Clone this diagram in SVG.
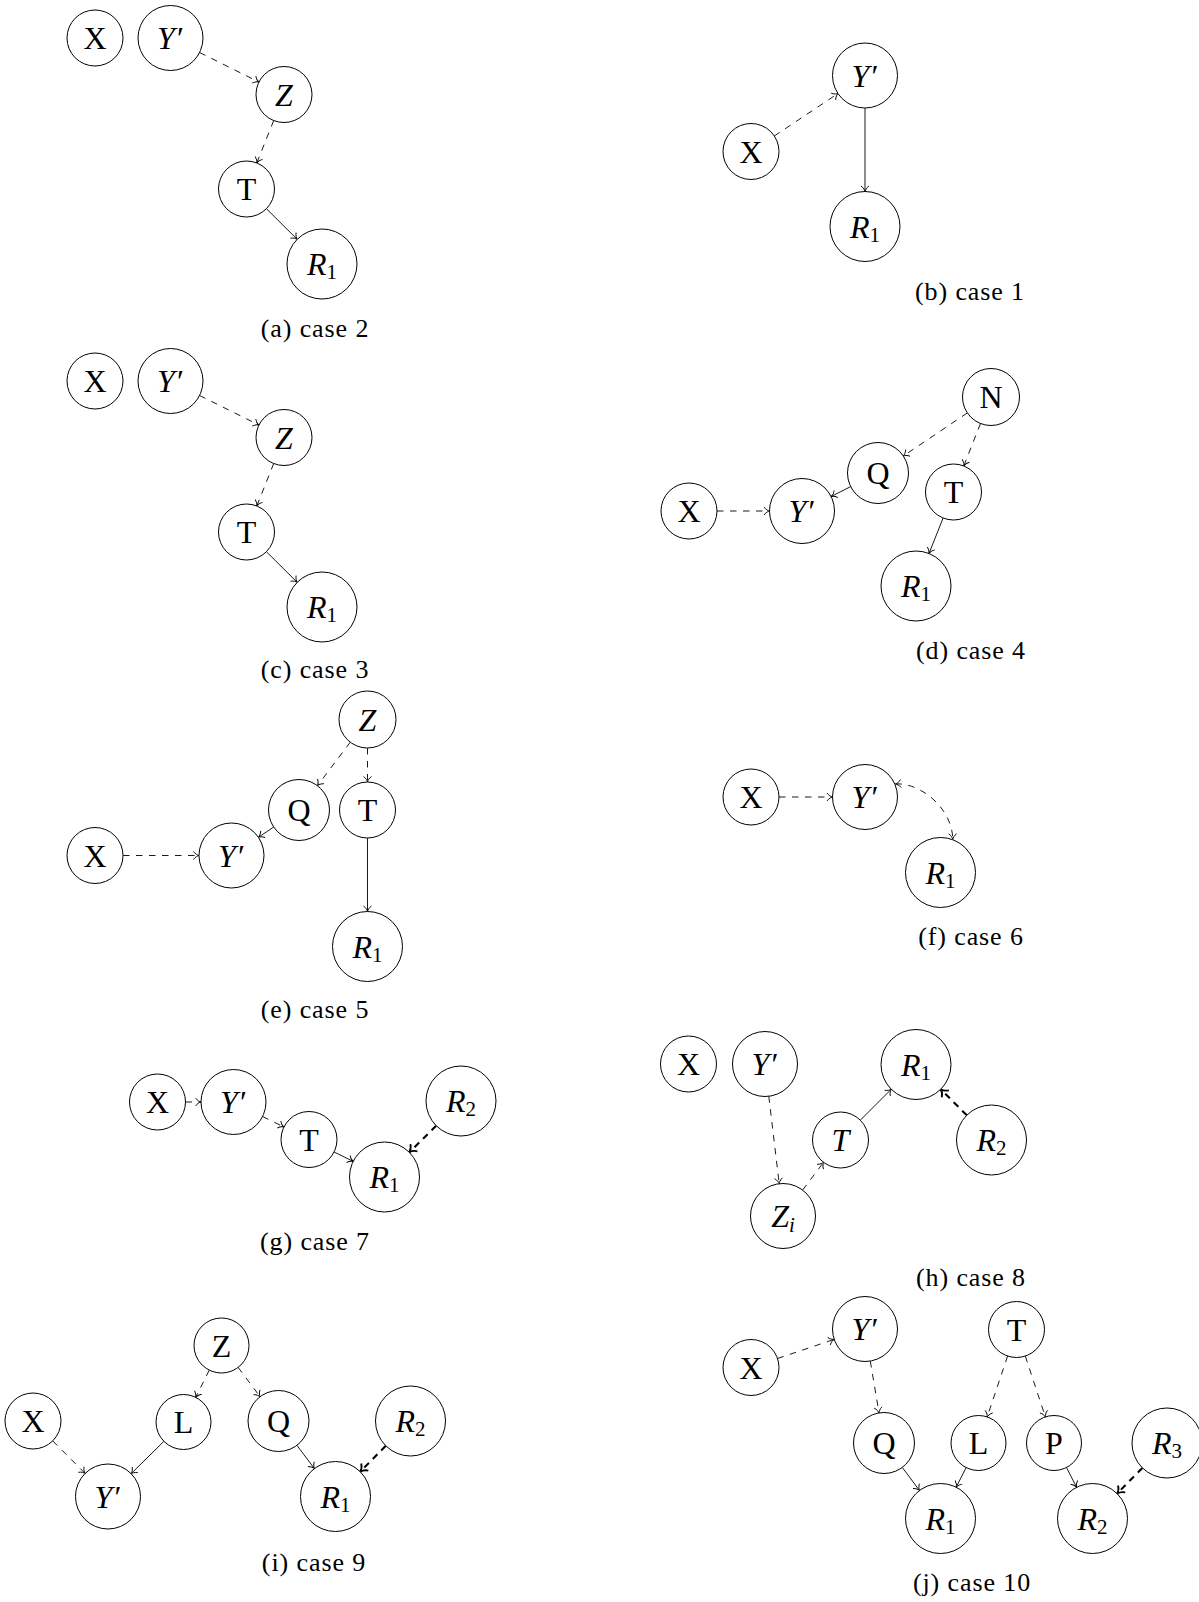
<svg xmlns="http://www.w3.org/2000/svg" width="1199" height="1602" viewBox="0 0 1199 1602">
<style>
  .n circle { fill: #fff; stroke: #000; stroke-width: 1; }
  text { font-family: "Liberation Serif", "DejaVu Serif", serif; fill: #000; }
  .lbl { font-size: 32px; text-anchor: middle; }
  .i { font-style: italic; }
  .sub { font-size: 21px; font-style: normal; }
  .subi { font-size: 21px; font-style: italic; }
  .pr { font-style: normal; }
  .cap { font-size: 26px; text-anchor: middle; letter-spacing: 0.9px; }
  .e { fill: none; stroke: #000; stroke-width: 0.9; marker-end: url(#ah); }
  .d { stroke-dasharray: 6.5 6.5; }
  .t { fill: none; stroke: #000; stroke-width: 2.1; stroke-dasharray: 6.5 5.5; marker-end: url(#ahT); }
  .both { marker-start: url(#ahS); }
</style>
<defs>
  <marker id="ah" markerUnits="userSpaceOnUse" markerWidth="12" markerHeight="12" refX="0" refY="0" orient="auto" overflow="visible">
    <path d="M -5.5,-4 C -3.8,-1.4 -1.2,-0.3 0,0 C -1.2,0.3 -3.8,1.4 -5.5,4" fill="none" stroke="#000" stroke-width="0.9"/>
  </marker>
  <marker id="ahS" markerUnits="userSpaceOnUse" markerWidth="12" markerHeight="12" refX="0" refY="0" orient="auto-start-reverse" overflow="visible">
    <path d="M -5.5,-4 C -3.8,-1.4 -1.2,-0.3 0,0 C -1.2,0.3 -3.8,1.4 -5.5,4" fill="none" stroke="#000" stroke-width="0.9"/>
  </marker>
  <marker id="ahT" markerUnits="userSpaceOnUse" markerWidth="14" markerHeight="14" refX="0" refY="0" orient="auto" overflow="visible">
    <path d="M -6.5,-5 C -4.5,-1.8 -1.5,-0.4 0,0 C -1.5,0.4 -4.5,1.8 -6.5,5" fill="none" stroke="#000" stroke-width="1.8"/>
  </marker>
</defs>
<rect x="0" y="0" width="1199" height="1602" fill="#fff"/>

<g id="connectors">
  <!-- (a) -->
  <line class="e d" x1="199.6" y1="52.5" x2="258.9" y2="82"/>
  <line class="e d" x1="273.7" y1="120.5" x2="256.8" y2="163"/>
  <line class="e" x1="266.4" y1="208.7" x2="297.2" y2="239.3"/>
  <!-- (b) -->
  <line class="e d" x1="774.3" y1="136" x2="838" y2="93.5"/>
  <line class="e" x1="865" y1="108" x2="865" y2="191.5"/>
  <!-- (c) -->
  <line class="e d" x1="199.6" y1="395.5" x2="258.9" y2="425"/>
  <line class="e d" x1="273.7" y1="463.5" x2="256.8" y2="506"/>
  <line class="e" x1="266.4" y1="551.7" x2="297.2" y2="582.3"/>
  <!-- (d) -->
  <line class="e d" x1="967.4" y1="412.9" x2="903.3" y2="456"/>
  <line class="e d" x1="980.5" y1="423.5" x2="963.8" y2="465.9"/>
  <line class="e" x1="850.7" y1="486.6" x2="831.1" y2="496.5"/>
  <line class="e d" x1="717" y1="511" x2="769.5" y2="511"/>
  <line class="e" x1="943.1" y1="518" x2="929" y2="553.5"/>
  <!-- (e) -->
  <line class="e d" x1="350.3" y1="742.2" x2="317.4" y2="785.7"/>
  <line class="e d" x1="367.5" y1="748" x2="367.5" y2="782"/>
  <line class="e" x1="273.7" y1="827" x2="258.4" y2="837.3"/>
  <line class="e d" x1="123" y1="855.5" x2="199" y2="855.5"/>
  <line class="e" x1="367.5" y1="838" x2="367.5" y2="911.5"/>
  <!-- (f) -->
  <line class="e d" x1="779" y1="797" x2="832.5" y2="797"/>
  <path class="e d both" d="M 895.4,784 C 918,782 952,806 952.8,839.3"/>
  <!-- (g) -->
  <line class="e d" x1="185.5" y1="1102" x2="201" y2="1102"/>
  <line class="e d" x1="262.6" y1="1116.5" x2="283.9" y2="1127"/>
  <line class="e" x1="334.1" y1="1152" x2="353.2" y2="1161.4"/>
  <line class="t" x1="436.2" y1="1125.7" x2="409.3" y2="1152.3"/>
  <!-- (h) -->
  <line class="e d" x1="768.8" y1="1096.3" x2="779.2" y2="1183.7"/>
  <line class="e d" x1="802.6" y1="1190.1" x2="823.6" y2="1162.3"/>
  <line class="e" x1="860.3" y1="1120.2" x2="891.3" y2="1089.2"/>
  <line class="t" x1="966.8" y1="1115.3" x2="940.7" y2="1089.2"/>
  <!-- (i) -->
  <line class="e d" x1="209.3" y1="1370.1" x2="195.7" y2="1397.4"/>
  <line class="e d" x1="238.1" y1="1367.4" x2="260.1" y2="1396.7"/>
  <line class="e d" x1="52.7" y1="1440.9" x2="85.1" y2="1473.4"/>
  <line class="e" x1="163.9" y1="1441.3" x2="131.1" y2="1473.7"/>
  <line class="e" x1="296.9" y1="1445.3" x2="314.4" y2="1468.6"/>
  <line class="t" x1="385.8" y1="1445.8" x2="360.2" y2="1471.7"/>
  <!-- (j) -->
  <line class="e d" x1="777.5" y1="1358.5" x2="834.2" y2="1339.4"/>
  <line class="e d" x1="870.3" y1="1361.1" x2="879" y2="1412.9"/>
  <line class="e d" x1="1007.6" y1="1356" x2="987.2" y2="1416.9"/>
  <line class="e d" x1="1025.3" y1="1356.1" x2="1045.4" y2="1416.9"/>
  <line class="e" x1="902.3" y1="1467.4" x2="919.5" y2="1490.5"/>
  <line class="e" x1="966.1" y1="1467.6" x2="956.2" y2="1487.2"/>
  <line class="e" x1="1066.5" y1="1467.5" x2="1076.6" y2="1487.3"/>
  <line class="t" x1="1142.4" y1="1467.9" x2="1117.1" y2="1493.6"/>
</g>

<!-- (a) case 2 -->
<g id="a-X" class="n"><circle cx="95" cy="38" r="28"/><text class="lbl" x="95" y="49">X</text></g>
<g id="a-Yp" class="n"><circle cx="170.5" cy="38" r="32.5"/><text class="lbl" x="170.5" y="49"><tspan class="i">Y</tspan><tspan class="pr" dx="2">′</tspan></text></g>
<g id="a-Z" class="n"><circle cx="284" cy="94.5" r="28"/><text class="lbl i" x="284" y="105.5">Z</text></g>
<g id="a-T" class="n"><circle cx="246.5" cy="189" r="28"/><text class="lbl" x="246.5" y="200">T</text></g>
<g id="a-R1" class="n"><circle cx="322" cy="264" r="35"/><text class="lbl" x="322" y="275"><tspan class="i">R</tspan><tspan class="sub" dy="4">1</tspan></text></g>

<!-- (b) case 1 -->
<g id="b-X" class="n"><circle cx="751" cy="151.5" r="28"/><text class="lbl" x="751" y="162.5">X</text></g>
<g id="b-Yp" class="n"><circle cx="865" cy="75.5" r="32.5"/><text class="lbl" x="865" y="86.5"><tspan class="i">Y</tspan><tspan class="pr" dx="2">′</tspan></text></g>
<g id="b-R1" class="n"><circle cx="865" cy="226.5" r="35"/><text class="lbl" x="865" y="237.5"><tspan class="i">R</tspan><tspan class="sub" dy="4">1</tspan></text></g>

<!-- (c) case 3 -->
<g id="c-X" class="n"><circle cx="95" cy="381" r="28"/><text class="lbl" x="95" y="392">X</text></g>
<g id="c-Yp" class="n"><circle cx="170.5" cy="381" r="32.5"/><text class="lbl" x="170.5" y="392"><tspan class="i">Y</tspan><tspan class="pr" dx="2">′</tspan></text></g>
<g id="c-Z" class="n"><circle cx="284" cy="437.5" r="28"/><text class="lbl i" x="284" y="448.5">Z</text></g>
<g id="c-T" class="n"><circle cx="246.5" cy="532" r="28"/><text class="lbl" x="246.5" y="543">T</text></g>
<g id="c-R1" class="n"><circle cx="322" cy="607" r="35"/><text class="lbl" x="322" y="618"><tspan class="i">R</tspan><tspan class="sub" dy="4">1</tspan></text></g>

<!-- (d) case 4 -->
<g id="d-N" class="n"><circle cx="991" cy="397" r="28.5"/><text class="lbl" x="991" y="408">N</text></g>
<g id="d-Q" class="n"><circle cx="878" cy="473" r="30.5"/><text class="lbl" x="878" y="484">Q</text></g>
<g id="d-T" class="n"><circle cx="953.5" cy="492" r="28"/><text class="lbl" x="953.5" y="503">T</text></g>
<g id="d-X" class="n"><circle cx="689" cy="511" r="28"/><text class="lbl" x="689" y="522">X</text></g>
<g id="d-Yp" class="n"><circle cx="802" cy="511" r="32.5"/><text class="lbl" x="802" y="522"><tspan class="i">Y</tspan><tspan class="pr" dx="2">′</tspan></text></g>
<g id="d-R1" class="n"><circle cx="916" cy="586" r="35"/><text class="lbl" x="916" y="597"><tspan class="i">R</tspan><tspan class="sub" dy="4">1</tspan></text></g>

<!-- (e) case 5 -->
<g id="e-Z" class="n"><circle cx="367.5" cy="719.5" r="28.5"/><text class="lbl i" x="367.5" y="730.5">Z</text></g>
<g id="e-Q" class="n"><circle cx="299" cy="810" r="30.5"/><text class="lbl" x="299" y="821">Q</text></g>
<g id="e-T" class="n"><circle cx="367.5" cy="810" r="28"/><text class="lbl" x="367.5" y="821">T</text></g>
<g id="e-X" class="n"><circle cx="95" cy="855.5" r="28"/><text class="lbl" x="95" y="866.5">X</text></g>
<g id="e-Yp" class="n"><circle cx="231.5" cy="855.5" r="32.5"/><text class="lbl" x="231.5" y="866.5"><tspan class="i">Y</tspan><tspan class="pr" dx="2">′</tspan></text></g>
<g id="e-R1" class="n"><circle cx="367.5" cy="946.5" r="35"/><text class="lbl" x="367.5" y="957.5"><tspan class="i">R</tspan><tspan class="sub" dy="4">1</tspan></text></g>

<!-- (f) case 6 -->
<g id="f-X" class="n"><circle cx="751" cy="797" r="28"/><text class="lbl" x="751" y="808">X</text></g>
<g id="f-Yp" class="n"><circle cx="865" cy="797" r="32.5"/><text class="lbl" x="865" y="808"><tspan class="i">Y</tspan><tspan class="pr" dx="2">′</tspan></text></g>
<g id="f-R1" class="n"><circle cx="940.5" cy="872.5" r="35"/><text class="lbl" x="940.5" y="883.5"><tspan class="i">R</tspan><tspan class="sub" dy="4">1</tspan></text></g>

<!-- (g) case 7 -->
<g id="g-X" class="n"><circle cx="157.5" cy="1102" r="28"/><text class="lbl" x="157.5" y="1113">X</text></g>
<g id="g-Yp" class="n"><circle cx="233.5" cy="1102" r="32.5"/><text class="lbl" x="233.5" y="1113"><tspan class="i">Y</tspan><tspan class="pr" dx="2">′</tspan></text></g>
<g id="g-T" class="n"><circle cx="309" cy="1139.5" r="28"/><text class="lbl" x="309" y="1150.5">T</text></g>
<g id="g-R1" class="n"><circle cx="384.5" cy="1177" r="35"/><text class="lbl" x="384.5" y="1188"><tspan class="i">R</tspan><tspan class="sub" dy="4">1</tspan></text></g>
<g id="g-R2" class="n"><circle cx="461" cy="1101" r="35"/><text class="lbl" x="461" y="1112"><tspan class="i">R</tspan><tspan class="sub" dy="4">2</tspan></text></g>

<!-- (h) case 8 -->
<g id="h-X" class="n"><circle cx="688.5" cy="1064" r="28"/><text class="lbl" x="688.5" y="1075">X</text></g>
<g id="h-Yp" class="n"><circle cx="765" cy="1064" r="32.5"/><text class="lbl" x="765" y="1075"><tspan class="i">Y</tspan><tspan class="pr" dx="2">′</tspan></text></g>
<g id="h-R1" class="n"><circle cx="916" cy="1064.5" r="35"/><text class="lbl" x="916" y="1075.5"><tspan class="i">R</tspan><tspan class="sub" dy="4">1</tspan></text></g>
<g id="h-T" class="n"><circle cx="840.5" cy="1140" r="28"/><text class="lbl i" x="840.5" y="1151">T</text></g>
<g id="h-R2" class="n"><circle cx="991.5" cy="1140" r="35"/><text class="lbl" x="991.5" y="1151"><tspan class="i">R</tspan><tspan class="sub" dy="4">2</tspan></text></g>
<g id="h-Zi" class="n"><circle cx="783" cy="1216" r="32.5"/><text class="lbl" x="783" y="1227"><tspan class="i">Z</tspan><tspan class="subi" dy="5">i</tspan></text></g>

<!-- (i) case 9 -->
<g id="i-Z" class="n"><circle cx="221.5" cy="1345.5" r="27.5"/><text class="lbl" x="221.5" y="1356.5">Z</text></g>
<g id="i-X" class="n"><circle cx="33" cy="1421" r="28"/><text class="lbl" x="33" y="1432">X</text></g>
<g id="i-L" class="n"><circle cx="183.5" cy="1422" r="27.5"/><text class="lbl" x="183.5" y="1433">L</text></g>
<g id="i-Q" class="n"><circle cx="278.5" cy="1421" r="30.5"/><text class="lbl" x="278.5" y="1432">Q</text></g>
<g id="i-R2" class="n"><circle cx="410.5" cy="1421" r="35"/><text class="lbl" x="410.5" y="1432"><tspan class="i">R</tspan><tspan class="sub" dy="4">2</tspan></text></g>
<g id="i-Yp" class="n"><circle cx="108" cy="1496.5" r="32.5"/><text class="lbl" x="108" y="1507.5"><tspan class="i">Y</tspan><tspan class="pr" dx="2">′</tspan></text></g>
<g id="i-R1" class="n"><circle cx="335.5" cy="1496.5" r="35"/><text class="lbl" x="335.5" y="1507.5"><tspan class="i">R</tspan><tspan class="sub" dy="4">1</tspan></text></g>

<!-- (j) case 10 -->
<g id="j-Yp" class="n"><circle cx="865" cy="1329" r="32.5"/><text class="lbl" x="865" y="1340"><tspan class="i">Y</tspan><tspan class="pr" dx="2">′</tspan></text></g>
<g id="j-T" class="n"><circle cx="1016.5" cy="1329.5" r="28"/><text class="lbl" x="1016.5" y="1340.5">T</text></g>
<g id="j-X" class="n"><circle cx="751" cy="1367.5" r="28"/><text class="lbl" x="751" y="1378.5">X</text></g>
<g id="j-Q" class="n"><circle cx="884" cy="1443" r="30.5"/><text class="lbl" x="884" y="1454">Q</text></g>
<g id="j-L" class="n"><circle cx="978.5" cy="1443" r="27.5"/><text class="lbl" x="978.5" y="1454">L</text></g>
<g id="j-P" class="n"><circle cx="1054" cy="1443" r="27.5"/><text class="lbl" x="1054" y="1454">P</text></g>
<g id="j-R3" class="n"><circle cx="1167" cy="1443" r="35"/><text class="lbl" x="1167" y="1454"><tspan class="i">R</tspan><tspan class="sub" dy="4">3</tspan></text></g>
<g id="j-R1" class="n"><circle cx="940.5" cy="1518.5" r="35"/><text class="lbl" x="940.5" y="1529.5"><tspan class="i">R</tspan><tspan class="sub" dy="4">1</tspan></text></g>
<g id="j-R2" class="n"><circle cx="1092.5" cy="1518.5" r="35"/><text class="lbl" x="1092.5" y="1529.5"><tspan class="i">R</tspan><tspan class="sub" dy="4">2</tspan></text></g>

<g id="captions">
  <text class="cap" x="315" y="337">(a) case 2</text>
  <text class="cap" x="970" y="300">(b) case 1</text>
  <text class="cap" x="315" y="678">(c) case 3</text>
  <text class="cap" x="971" y="659">(d) case 4</text>
  <text class="cap" x="315" y="1018">(e) case 5</text>
  <text class="cap" x="971" y="945">(f) case 6</text>
  <text class="cap" x="315" y="1250">(g) case 7</text>
  <text class="cap" x="971" y="1286">(h) case 8</text>
  <text class="cap" x="314" y="1571">(i) case 9</text>
  <text class="cap" x="972" y="1591">(j) case 10</text>
</g>
</svg>
